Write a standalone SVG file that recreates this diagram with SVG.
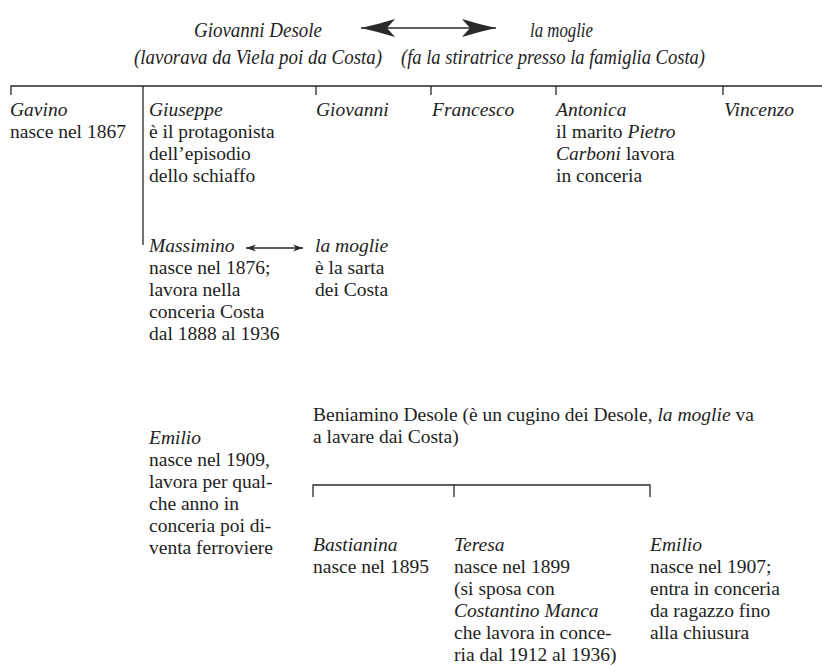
<svg xmlns="http://www.w3.org/2000/svg" width="822" height="665" viewBox="0 0 822 665">
<style>
.t{font-family:"Liberation Serif","Times New Roman",serif;font-size:19.5px;fill:#1e1e1e}
.i{font-style:italic}
.h{font-family:"Liberation Serif","Times New Roman",serif;font-size:21px;font-style:italic;fill:#1e1e1e}
.ln{stroke:#2a2a2a;stroke-width:1.3;fill:none}
</style>
<defs>
<marker id="big" viewBox="0 0 34 20" refX="34" refY="10" markerWidth="34" markerHeight="20" markerUnits="userSpaceOnUse" orient="auto-start-reverse">
<path d="M34 10 Q16 6 0 1 L8 10 L0 19 Q16 14 34 10 Z" fill="#2a2a2a"/>
</marker>
<marker id="small" viewBox="0 0 10 8" refX="10" refY="4" markerWidth="10" markerHeight="8" markerUnits="userSpaceOnUse" orient="auto-start-reverse">
<path d="M10 4 L0 0.5 L3 4 L0 7.5 Z" fill="#2a2a2a"/>
</marker>
</defs>

<g id="connectors">
<line class="ln" x1="361" y1="28" x2="496" y2="28" marker-start="url(#big)" marker-end="url(#big)"/>
<path class="ln" d="M11 95 V86 H822 M143 86 V245 M316 86 V95 M431 86 V95 M556 86 V95 M723 86 V95"/>
<line class="ln" x1="246" y1="248" x2="303" y2="248" marker-start="url(#small)" marker-end="url(#small)"/>
<path class="ln" d="M313 497 V485 H650 V497 M454 485 V497"/>
</g>

<g id="giovanni-desole">
<text class="h" x="194" y="37" textLength="128" lengthAdjust="spacingAndGlyphs">Giovanni Desole</text>
<text class="h" x="134" y="64" textLength="248" lengthAdjust="spacingAndGlyphs">(lavorava da Viela poi da Costa)</text>
</g>
<g id="moglie-top">
<text class="h" x="530" y="37" textLength="63" lengthAdjust="spacingAndGlyphs">la moglie</text>
<text class="h" x="401" y="64" textLength="304" lengthAdjust="spacingAndGlyphs">(fa la stiratrice presso la famiglia Costa)</text>
</g>

<g id="gavino">
<text class="t i" x="10" y="116">Gavino</text>
<text class="t" x="10" y="138">nasce nel 1867</text>
</g>
<g id="giuseppe">
<text class="t i" x="149" y="116">Giuseppe</text>
<text class="t" x="149" y="138">è il protagonista</text>
<text class="t" x="149" y="160">dell’episodio</text>
<text class="t" x="149" y="182">dello schiaffo</text>
</g>
<g id="giovanni">
<text class="t i" x="316" y="116">Giovanni</text>
</g>
<g id="francesco">
<text class="t i" x="432" y="116">Francesco</text>
</g>
<g id="antonica">
<text class="t i" x="556" y="116">Antonica</text>
<text class="t" x="556" y="138">il marito <tspan class="i">Pietro</tspan></text>
<text class="t" x="556" y="160"><tspan class="i">Carboni</tspan> lavora</text>
<text class="t" x="556" y="182">in conceria</text>
</g>
<g id="vincenzo">
<text class="t i" x="724" y="116">Vincenzo</text>
</g>

<g id="massimino">
<text class="t i" x="149" y="252">Massimino</text>
<text class="t" x="149" y="274">nasce nel 1876;</text>
<text class="t" x="149" y="296">lavora nella</text>
<text class="t" x="149" y="318">conceria Costa</text>
<text class="t" x="149" y="340">dal 1888 al 1936</text>
</g>
<g id="moglie-massimino">
<text class="t i" x="315" y="252">la moglie</text>
<text class="t" x="315" y="274">è la sarta</text>
<text class="t" x="315" y="296">dei Costa</text>
</g>

<g id="emilio-1909">
<text class="t i" x="149" y="444">Emilio</text>
<text class="t" x="149" y="466">nasce nel 1909,</text>
<text class="t" x="149" y="488">lavora per qual-</text>
<text class="t" x="149" y="510">che anno in</text>
<text class="t" x="149" y="532">conceria poi di-</text>
<text class="t" x="149" y="554">venta ferroviere</text>
</g>

<g id="beniamino">
<text class="t" x="313" y="421">Beniamino Desole (è un cugino dei Desole, <tspan class="i">la moglie</tspan> va</text>
<text class="t" x="313" y="443">a lavare dai Costa)</text>
</g>

<g id="bastianina">
<text class="t i" x="313" y="551">Bastianina</text>
<text class="t" x="313" y="573">nasce nel 1895</text>
</g>
<g id="teresa">
<text class="t i" x="454" y="551">Teresa</text>
<text class="t" x="454" y="573">nasce nel 1899</text>
<text class="t" x="454" y="595">(si sposa con</text>
<text class="t i" x="454" y="617">Costantino Manca</text>
<text class="t" x="454" y="639">che lavora in conce-</text>
<text class="t" x="454" y="661">ria dal 1912 al 1936)</text>
</g>
<g id="emilio-1907">
<text class="t i" x="650" y="551">Emilio</text>
<text class="t" x="650" y="573">nasce nel 1907;</text>
<text class="t" x="650" y="595">entra in conceria</text>
<text class="t" x="650" y="617">da ragazzo fino</text>
<text class="t" x="650" y="639">alla chiusura</text>
</g>
</svg>
